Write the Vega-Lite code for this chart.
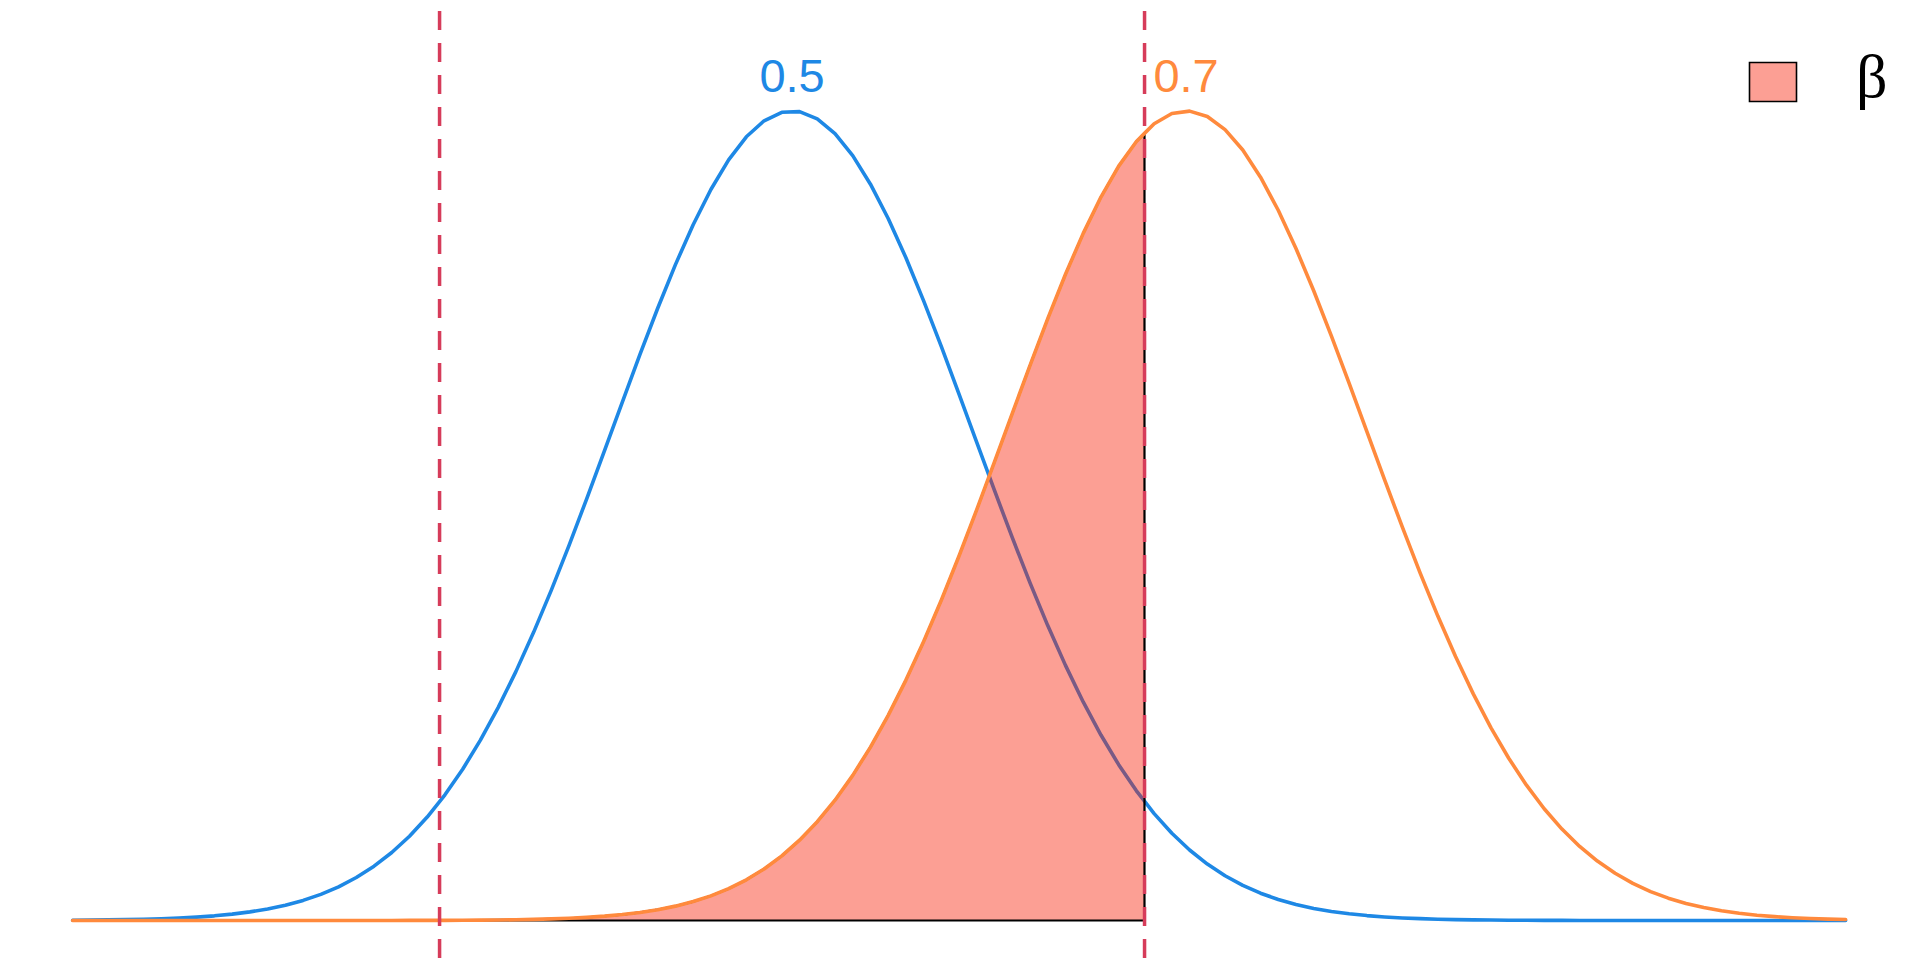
{
  "$schema": "https://vega.github.io/schema/vega-lite/v6.json",
  "width": 1920,
  "height": 960,
  "padding": 0,
  "autosize": {"type": "none"},
  "background": "white",
  "config": {"view": {"stroke": null}},
  "datasets": {
    "curves": [
      {"x":0.1348,"h0":0.00034,"h1":0},{"x":0.1438,"h0":0.00050,"h1":0},{"x":0.1528,"h0":0.00072,"h1":0},{"x":0.1618,"h0":0.00105,"h1":0},{"x":0.1708,"h0":0.00150,"h1":0},
      {"x":0.1798,"h0":0.00213,"h1":0},{"x":0.1888,"h0":0.00300,"h1":0},{"x":0.1978,"h0":0.00418,"h1":0},{"x":0.2068,"h0":0.00576,"h1":0},{"x":0.2158,"h0":0.00787,"h1":0},
      {"x":0.2248,"h0":0.01064,"h1":0},{"x":0.2338,"h0":0.01425,"h1":0},{"x":0.2428,"h0":0.01890,"h1":0},{"x":0.2518,"h0":0.02483,"h1":0},{"x":0.2608,"h0":0.03231,"h1":0.00001},
      {"x":0.2698,"h0":0.04162,"h1":0.00001},{"x":0.2788,"h0":0.05311,"h1":0.00002},{"x":0.2878,"h0":0.06711,"h1":0.00004},{"x":0.2968,"h0":0.08398,"h1":0.00006},{"x":0.3058,"h0":0.10407,"h1":0.00009},
      {"x":0.3148,"h0":0.12773,"h1":0.00014},{"x":0.3238,"h0":0.15526,"h1":0.00021},{"x":0.3328,"h0":0.18687,"h1":0.00031},{"x":0.3418,"h0":0.22275,"h1":0.00045},{"x":0.3508,"h0":0.26298,"h1":0.00066},
      {"x":0.3598,"h0":0.30744,"h1":0.00096},{"x":0.3688,"h0":0.35596,"h1":0.00139},{"x":0.3778,"h0":0.40816,"h1":0.00197},{"x":0.3868,"h0":0.46348,"h1":0.00278},{"x":0.3958,"h0":0.52121,"h1":0.00388},
      {"x":0.4048,"h0":0.58042,"h1":0.00536},{"x":0.4138,"h0":0.64016,"h1":0.00733},{"x":0.4228,"h0":0.69922,"h1":0.00994},{"x":0.4318,"h0":0.75633,"h1":0.01335},{"x":0.4408,"h0":0.81020,"h1":0.01774},
      {"x":0.4498,"h0":0.85952,"h1":0.02336},{"x":0.4588,"h0":0.90303,"h1":0.03046},{"x":0.4678,"h0":0.93956,"h1":0.03933},{"x":0.4768,"h0":0.96813,"h1":0.05029},{"x":0.4858,"h0":0.98791,"h1":0.06369},
      {"x":0.4948,"h0":0.99835,"h1":0.07987},{"x":0.5038,"h0":0.99915,"h1":0.09920},{"x":0.5128,"h0":0.99029,"h1":0.12202},{"x":0.5218,"h0":0.97201,"h1":0.14863},{"x":0.5308,"h0":0.94484,"h1":0.17930},
      {"x":0.5398,"h0":0.90957,"h1":0.21421},{"x":0.5488,"h0":0.86713,"h1":0.25344},{"x":0.5578,"h0":0.81869,"h1":0.29696},{"x":0.5668,"h0":0.76546,"h1":0.34458},{"x":0.5758,"h0":0.70880,"h1":0.39597},
      {"x":0.5848,"h0":0.65000,"h1":0.45063},{"x":0.5938,"h0":0.59027,"h1":0.50788},{"x":0.6028,"h0":0.53088,"h1":0.56687},{"x":0.6118,"h0":0.47283,"h1":0.62659},{"x":0.6208,"h0":0.41707,"h1":0.68590},
      {"x":0.6298,"h0":0.36432,"h1":0.74357},{"x":0.6388,"h0":0.31516,"h1":0.79830},{"x":0.6478,"h0":0.27001,"h1":0.84877},{"x":0.6568,"h0":0.22909,"h1":0.89370},{"x":0.6658,"h0":0.19251,"h1":0.93192},
      {"x":0.6748,"h0":0.16018,"h1":0.96237},{"x":0.6789,"h0":0.14734,"h1":0.97232},{"x":0.6838,"h0":0.13199,"h1":0.98421},{"x":0.6928,"h0":0.10771,"h1":0.99682},{"x":0.7018,"h0":0.08706,"h1":0.99982},
      {"x":0.7108,"h0":0.06967,"h1":0.99314},{"x":0.7198,"h0":0.05523,"h1":0.97697},{"x":0.7288,"h0":0.04335,"h1":0.95177},{"x":0.7378,"h0":0.03370,"h1":0.91826},{"x":0.7468,"h0":0.02595,"h1":0.87736},
      {"x":0.7558,"h0":0.01978,"h1":0.83017},{"x":0.7648,"h0":0.01494,"h1":0.77793},{"x":0.7738,"h0":0.01117,"h1":0.72193},{"x":0.7828,"h0":0.00827,"h1":0.66349},{"x":0.7918,"h0":0.00607,"h1":0.60388},
      {"x":0.8008,"h0":0.00441,"h1":0.54431},{"x":0.8098,"h0":0.00317,"h1":0.48587},{"x":0.8188,"h0":0.00226,"h1":0.42952},{"x":0.8278,"h0":0.00159,"h1":0.37603},{"x":0.8368,"h0":0.00111,"h1":0.32602},
      {"x":0.8458,"h0":0.00077,"h1":0.27992},{"x":0.8548,"h0":0.00053,"h1":0.23803},{"x":0.8638,"h0":0.00036,"h1":0.20044},{"x":0.8728,"h0":0.00024,"h1":0.16716},{"x":0.8818,"h0":0.00016,"h1":0.13806},
      {"x":0.8908,"h0":0.00011,"h1":0.11292},{"x":0.8998,"h0":0.00007,"h1":0.09146},{"x":0.9088,"h0":0.00004,"h1":0.07337},{"x":0.9178,"h0":0.00003,"h1":0.05829},{"x":0.9268,"h0":0.00002,"h1":0.04586},
      {"x":0.9358,"h0":0.00001,"h1":0.03573},{"x":0.9448,"h0":0.00001,"h1":0.02757},{"x":0.9538,"h0":0,"h1":0.02107},{"x":0.9628,"h0":0,"h1":0.01594},{"x":0.9718,"h0":0,"h1":0.01195},
      {"x":0.9808,"h0":0,"h1":0.00887},{"x":0.9898,"h0":0,"h1":0.00652},{"x":0.9988,"h0":0,"h1":0.00474},{"x":1.0078,"h0":0,"h1":0.00342},{"x":1.0168,"h0":0,"h1":0.00244},
      {"x":1.0258,"h0":0,"h1":0.00173},{"x":1.0348,"h0":0,"h1":0.00121}
    ],
    "crit": [{"crit": 0.32107}, {"crit": 0.67893}],
    "peaks": [{"x": 0.5, "h": 1, "label": "0.5"}, {"x": 0.7, "h": 1, "label": "0.7"}]
  },
  "layer": [
    {
      "data": {"name": "curves"},
      "mark": {"type": "line", "color": "#1E88E5", "strokeWidth": 3.6, "strokeJoin": "round", "strokeCap": "round"},
      "encoding": {
        "x": {"field": "x", "type": "quantitative", "scale": {"domain": [0.09794, 1.07256], "nice": false, "zero": false}, "axis": null},
        "y": {"field": "h0", "type": "quantitative", "scale": {"domain": [-0.0488, 1.1371], "nice": false, "zero": false}, "axis": null}
      }
    },
    {
      "data": {"name": "curves"},
      "transform": [{"filter": "datum.x <= 0.679"}],
      "mark": {"type": "area", "fillOpacity": 0.42, "stroke": "black", "strokeWidth": 2.2, "strokeOpacity": 1},
      "encoding": {
        "x": {"field": "x", "type": "quantitative", "scale": {"domain": [0.09794, 1.07256], "nice": false, "zero": false}, "axis": null},
        "y": {"field": "h1", "type": "quantitative", "scale": {"domain": [-0.0488, 1.1371], "nice": false, "zero": false}, "axis": null},
        "y2": {"datum": 0},
        "fill": {
          "datum": "β",
          "type": "nominal",
          "scale": {"range": ["#F81A00"]},
          "legend": {
            "title": null,
            "orient": "none",
            "legendX": 1742,
            "legendY": 51,
            "padding": 0,
            "symbolType": "M-1,-0.83H1V0.83H-1Z",
            "symbolSize": 2209,
            "symbolStrokeColor": "black",
            "symbolStrokeWidth": 1.6,
            "labelFont": "Liberation Serif",
            "labelFontSize": 62,
            "labelColor": "black",
            "labelOffset": 52,
            "encode": {
              "symbols": {"update": {"fillOpacity": {"value": 0.42}, "strokeOpacity": {"value": 1}, "opacity": {"value": 1}}},
              "labels": {"update": {"dy": {"value": -4}}}
            }
          }
        }
      }
    },
    {
      "data": {"name": "curves"},
      "mark": {"type": "line", "color": "#FF8A3D", "strokeWidth": 3.6, "strokeJoin": "round", "strokeCap": "round"},
      "encoding": {
        "x": {"field": "x", "type": "quantitative", "scale": {"domain": [0.09794, 1.07256], "nice": false, "zero": false}, "axis": null},
        "y": {"field": "h1", "type": "quantitative", "scale": {"domain": [-0.0488, 1.1371], "nice": false, "zero": false}, "axis": null}
      }
    },
    {
      "data": {"name": "peaks"},
      "transform": [{"filter": "datum.label == '0.5'"}],
      "mark": {"type": "text", "color": "#1E88E5", "font": "Liberation Sans", "fontSize": 47, "dy": -19, "baseline": "alphabetic", "align": "center"},
      "encoding": {
        "x": {"field": "x", "type": "quantitative", "scale": {"domain": [0.09794, 1.07256], "nice": false, "zero": false}, "axis": null},
        "y": {"field": "h", "type": "quantitative", "scale": {"domain": [-0.0488, 1.1371], "nice": false, "zero": false}, "axis": null},
        "text": {"field": "label"}
      }
    },
    {
      "data": {"name": "peaks"},
      "transform": [{"filter": "datum.label == '0.7'"}],
      "mark": {"type": "text", "color": "#FF8A3D", "font": "Liberation Sans", "fontSize": 47, "dy": -19, "baseline": "alphabetic", "align": "center"},
      "encoding": {
        "x": {"field": "x", "type": "quantitative", "scale": {"domain": [0.09794, 1.07256], "nice": false, "zero": false}, "axis": null},
        "y": {"field": "h", "type": "quantitative", "scale": {"domain": [-0.0488, 1.1371], "nice": false, "zero": false}, "axis": null},
        "text": {"field": "label"}
      }
    },
    {
      "data": {"name": "crit"},
      "mark": {"type": "rule", "color": "#D63C5A", "strokeWidth": 3.5, "strokeDash": [19, 13], "strokeDashOffset": 21},
      "encoding": {
        "x": {"field": "crit", "type": "quantitative", "scale": {"domain": [0.09794, 1.07256], "nice": false, "zero": false}, "axis": null}
      }
    }
  ]
}
